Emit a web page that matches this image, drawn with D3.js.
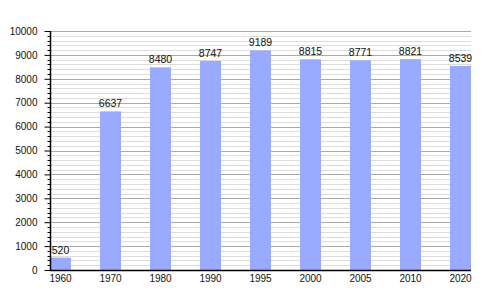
<!DOCTYPE html>
<html>
<head>
<meta charset="utf-8">
<script src="https://cdn.jsdelivr.net/npm/d3@7"></script>
<style>
  body { margin: 0; background: #fff; }
  text { font-family: "Liberation Sans", Arial, sans-serif; fill: #111; }
</style>
</head>
<body>
<svg id="chart" width="500" height="300"></svg>
<script>
// population by census year
var years = ["1960", "1970", "1980", "1990", "1995", "2000", "2005", "2010", "2020"];
var values = [520, 6637, 8480, 8747, 9189, 8815, 8771, 8821, 8539];
var yTicks = [0, 1000, 2000, 3000, 4000, 5000, 6000, 7000, 8000, 9000, 10000];

var svg = d3.select("#chart");
// note: "top" is taken by window.top, so plot edges get their own names
var plotL = 50, plotR = 471, plotT = 31, plotB = 270;

var x = d3.scaleBand().domain(years).range([plotL, plotL + 50 * years.length]).padding(0);
var y = d3.scaleLinear().domain([0, 10000]).range([plotB, plotT]);
var barW = 21;

// minor gridlines every 200
var minor = d3.range(0, 10001, 200).filter(function (v) { return v % 1000 !== 0; });
svg.append("g").selectAll("line").data(minor).join("line")
    .attr("x1", plotL).attr("x2", plotR)
    .attr("y1", function (d) { return Math.round(y(d)) + 0.5; })
    .attr("y2", function (d) { return Math.round(y(d)) + 0.5; })
    .attr("stroke", "#dddddd");

svg.append("g").selectAll("line").data(yTicks.slice(1)).join("line")
    .attr("x1", plotL).attr("x2", plotR)
    .attr("y1", function (d) { return Math.round(y(d)) + 0.5; })
    .attr("y2", function (d) { return Math.round(y(d)) + 0.5; })
    .attr("stroke", "#aaaaaa");

// bars
svg.append("g").selectAll("rect").data(values).join("rect")
    .attr("x", function (d, i) { return x(years[i]); })
    .attr("y", function (d) { return y(d); })
    .attr("width", barW)
    .attr("height", function (d) { return plotB - y(d); })
    .attr("fill", "#99aaff");

svg.append("g").selectAll("text").data(values).join("text")
    .attr("x", function (d, i) { return x(years[i]) + barW / 2; })
    .attr("y", function (d) { return y(d) - 4; })
    .attr("text-anchor", "middle")
    .attr("font-size", "10.5px")
    .text(function (d) { return d; });

// y axis
var yAxis = d3.axisLeft(y).tickValues(yTicks).tickFormat(d3.format("d")).tickSize(6).tickPadding(7);
var gY = svg.append("g").attr("transform", "translate(" + (plotL + 0.5) + ",0)").call(yAxis);
gY.select(".domain").remove();
gY.selectAll("text").attr("font-size", "10px").attr("font-family", "Liberation Sans, Arial, sans-serif").attr("fill", "#111");
gY.selectAll("line").attr("stroke", "#000");
gY.append("g").selectAll("line").data(minor).join("line")
    .attr("x1", -3).attr("x2", 0)
    .attr("y1", function (d) { return Math.round(y(d)) + 0.5; })
    .attr("y2", function (d) { return Math.round(y(d)) + 0.5; })
    .attr("stroke", "#000");
gY.append("line").attr("x1", 0).attr("x2", 0).attr("y1", plotT).attr("y2", plotB + 1)
    .attr("stroke", "#000").attr("stroke-width", 1.5);

// x axis
svg.append("line").attr("x1", plotL).attr("x2", plotR)
    .attr("y1", plotB + 0.5).attr("y2", plotB + 0.5)
    .attr("stroke", "#000").attr("stroke-width", 1.5);
svg.append("g").selectAll("text").data(years).join("text")
    .attr("x", function (d) { return x(d) + barW / 2; })
    .attr("y", 282)
    .attr("text-anchor", "middle")
    .attr("font-size", "10px")
    .text(function (d) { return d; });
</script>
</body>
</html>
